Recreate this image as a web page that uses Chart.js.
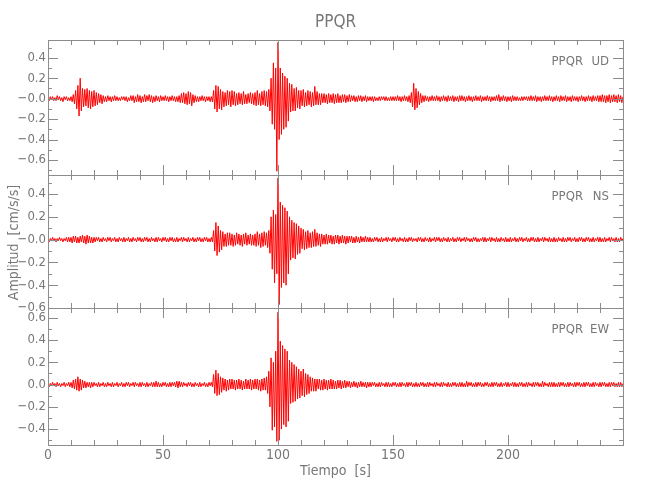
<!DOCTYPE html>
<html>
<head>
<meta charset="utf-8">
<script src="https://cdn.jsdelivr.net/npm/chart.js@4.4.1/dist/chart.umd.min.js"></script>
<style>
  html, body { margin: 0; padding: 0; background: #fff; }
</style>
</head>
<body>
<canvas id="sismo" width="650" height="500"></canvas>
<script>
const estacion = 'PPQR';
const componentes = ['UD', 'NS', 'EW'];
const dt = 0.5; // s entre muestras

// componente vertical, cada fila = 10 s
const ud = [
  .01,-.02,.02,-.01,.02,-.02,.01,-.02,.03,-.01,.02,-.02,.01,-.03,.02,-.01,.02,-.02,.01,-.02, // 0
  .02,-.03,.04,-.05,.08,-.1,.13,-.17,.2,-.12,.1,-.08,.09,-.07,.1,-.09,.08,-.1,.07,-.08,      // 10
  .08,-.07,.06,-.06,.05,-.04,.04,-.05,.03,-.03,.02,-.03,.03,-.02,.02,-.03,.02,-.02,.03,-.02, // 20
  .02,-.02,.01,-.02,.02,-.01,.02,-.02,.02,-.03,.01,-.02,.03,-.02,.03,-.04,.02,-.03,.04,-.03, // 30
  .03,-.04,.02,-.03,.04,-.03,.03,-.02,.04,-.03,.03,-.04,.02,-.03,.03,-.02,.02,-.03,.03,-.02, // 40
  .02,-.02,.03,-.02,.02,-.03,.02,-.02,.03,-.02,.02,-.03,.02,-.03,.03,-.04,.05,-.04,.06,-.05, // 50
  .05,-.06,.07,-.05,.06,-.07,.04,-.04,.03,-.03,.02,-.03,.02,-.02,.03,-.02,.02,-.03,.02,-.02, // 60
  .02,-.03,.02,-.03,.08,-.1,.13,-.13,.12,-.1,.09,-.11,.07,-.08,.06,-.07,.08,-.06,.07,-.08,   // 70
  .08,-.06,.07,-.07,.05,-.06,.06,-.05,.05,-.06,.07,-.05,.04,-.05,.05,-.04,.06,-.05,.05,-.06, // 80
  .06,-.07,.08,-.06,.05,-.07,.07,-.06,.08,-.07,.07,-.08,.09,-.12,.2,-.25,.35,-.3,.3,-.71,    // 90
  .55,-.4,.3,-.35,.25,-.3,.22,-.28,.2,-.22,.15,-.13,.14,-.12,.1,-.12,.11,-.09,.08,-.1,       // 100
  .08,-.07,.09,-.08,.06,-.07,.08,-.06,.07,-.08,.06,-.07,.12,-.06,.07,-.06,.05,-.06,.05,-.04, // 110
  .05,-.04,.04,-.05,.05,-.04,.04,-.04,.05,-.05,.04,-.04,.05,-.04,.03,-.04,.04,-.03,.04,-.04, // 120
  .03,-.03,.04,-.03,.03,-.02,.03,-.03,.02,-.03,.03,-.02,.03,-.03,.02,-.02,.03,-.03,.02,-.02, // 130
  .02,-.02,.02,-.03,.02,-.02,.01,-.02,.02,-.02,.02,-.01,.02,-.02,.02,-.02,.01,-.02,.02,-.02, // 140
  .02,-.02,.02,-.02,.03,-.02,.02,-.03,.02,-.02,.03,-.02,.02,-.03,.03,-.04,.06,-.08,.15,-.11, // 150
  .1,-.09,.07,-.06,.05,-.04,.03,-.03,.03,-.02,.02,-.03,.02,-.02,.03,-.02,.02,-.02,.03,-.02,  // 160
  .02,-.03,.02,-.02,.03,-.02,.02,-.03,.03,-.02,.02,-.02,.03,-.03,.02,-.02,.02,-.03,.03,-.02, // 170
  .03,-.02,.02,-.03,.02,-.02,.03,-.02,.02,-.03,.02,-.02,.03,-.02,.02,-.02,.03,-.03,.02,-.02, // 180
  .02,-.02,.03,-.02,.02,-.03,.02,-.02,.02,-.02,.03,-.02,.04,-.03,.02,-.02,.03,-.02,.02,-.03, // 190
  .02,-.02,.02,-.03,.03,-.02,.02,-.02,.02,-.02,.01,-.02,.02,-.02,.02,-.01,.02,-.02,.02,-.02, // 200
  .03,-.02,.02,-.02,.03,-.03,.02,-.02,.02,-.03,.02,-.02,.03,-.02,.02,-.02,.03,-.02,.02,-.03, // 210
  .02,-.02,.03,-.02,.02,-.03,.03,-.02,.02,-.02,.03,-.03,.02,-.02,.02,-.03,.03,-.02,.02,-.02, // 220
  .02,-.03,.02,-.02,.03,-.02,.02,-.03,.02,-.02,.03,-.02,.02,-.03,.03,-.02,.02,-.02,.03,-.03, // 230
  .03,-.03,.04,-.03,.03,-.04,.03,-.03,.04,-.04,.03,-.03,.04,-.03,.03,-.04,.04,-.03,.03,-.04, // 240
  .02
];

// componente norte-sur
const ns = [
  .01,-.02,.01,-.01,.02,-.01,.01,-.02,.01,-.01,.02,-.01,.01,-.02,.01,-.01,.02,-.02,.02,-.02, // 0
  .02,-.03,.03,-.02,.03,-.03,.02,-.03,.03,-.02,.04,-.03,.03,-.04,.04,-.03,.03,-.03,.02,-.03, // 10
  .02,-.02,.02,-.01,.02,-.02,.01,-.02,.02,-.01,.01,-.02,.02,-.01,.02,-.02,.01,-.01,.02,-.02, // 20
  .01,-.02,.02,-.01,.01,-.02,.02,-.02,.01,-.01,.02,-.02,.01,-.02,.02,-.01,.01,-.02,.02,-.01, // 30
  .02,-.02,.01,-.02,.02,-.01,.02,-.02,.01,-.02,.02,-.01,.01,-.02,.02,-.02,.02,-.01,.01,-.02, // 40
  .02,-.01,.02,-.02,.01,-.02,.02,-.01,.02,-.02,.01,-.02,.02,-.02,.01,-.01,.02,-.02,.02,-.01, // 50
  .01,-.02,.02,-.02,.01,-.01,.02,-.02,.01,-.02,.02,-.01,.02,-.02,.01,-.02,.02,-.01,.02,-.02, // 60
  .01,-.02,.02,-.02,.08,-.1,.15,-.14,.12,-.11,.08,-.09,.07,-.06,.05,-.06,.06,-.05,.06,-.05,  // 70
  .05,-.06,.04,-.05,.06,-.04,.05,-.05,.04,-.06,.05,-.04,.06,-.05,.04,-.04,.05,-.05,.04,-.05, // 80
  .05,-.06,.07,-.05,.05,-.07,.06,-.06,.07,-.05,.06,-.07,.08,-.12,.2,-.26,.26,-.38,.22,-.3,   // 90
  .54,-.57,.33,-.42,.3,-.38,.28,-.4,.25,-.3,.2,-.18,.17,-.16,.15,-.17,.14,-.13,.12,-.12,     // 100
  .1,-.08,.09,-.09,.07,-.08,.08,-.07,.06,-.07,.07,-.06,.09,-.06,.06,-.05,.05,-.06,.05,-.04,  // 110
  .04,-.04,.05,-.04,.04,-.03,.04,-.04,.03,-.04,.04,-.03,.04,-.04,.03,-.03,.04,-.03,.03,-.04, // 120
  .03,-.03,.03,-.02,.03,-.03,.02,-.03,.03,-.02,.02,-.03,.03,-.02,.02,-.02,.03,-.02,.02,-.02, // 130
  .02,-.02,.01,-.02,.02,-.01,.02,-.02,.01,-.02,.02,-.02,.01,-.01,.02,-.02,.02,-.01,.01,-.02, // 140
  .02,-.01,.02,-.02,.01,-.02,.02,-.01,.01,-.02,.02,-.02,.01,-.02,.02,-.01,.02,-.02,.01,-.01, // 150
  .01,-.02,.02,-.01,.02,-.02,.01,-.02,.02,-.01,.01,-.02,.02,-.02,.01,-.01,.02,-.02,.02,-.01, // 160
  .02,-.02,.01,-.02,.02,-.01,.01,-.02,.02,-.02,.01,-.01,.02,-.02,.01,-.02,.02,-.01,.02,-.02, // 170
  .01,-.01,.02,-.02,.02,-.01,.01,-.02,.01,-.02,.02,-.01,.02,-.02,.01,-.02,.01,-.01,.02,-.02, // 180
  .02,-.02,.01,-.01,.02,-.02,.02,-.01,.01,-.02,.02,-.02,.01,-.02,.02,-.01,.01,-.02,.02,-.02, // 190
  .01,-.02,.02,-.02,.01,-.01,.02,-.02,.01,-.02,.02,-.01,.02,-.02,.01,-.01,.02,-.02,.01,-.02, // 200
  .02,-.01,.02,-.02,.01,-.02,.02,-.02,.01,-.01,.02,-.02,.02,-.01,.01,-.02,.02,-.02,.01,-.02, // 210
  .02,-.02,.01,-.02,.02,-.01,.01,-.02,.02,-.02,.01,-.02,.02,-.01,.02,-.02,.01,-.01,.02,-.02, // 220
  .01,-.02,.02,-.01,.02,-.02,.01,-.02,.02,-.01,.02,-.02,.01,-.02,.02,-.02,.01,-.01,.02,-.02, // 230
  .02,-.02,.01,-.02,.02,-.02,.01,-.01,.02,-.02,.02,-.01,.01,-.02,.02,-.02,.01,-.02,.02,-.01, // 240
  .01
];

// componente este-oeste
const ew = [
  .01,-.02,.01,-.01,.02,-.01,.01,-.02,.02,-.01,.01,-.02,.01,-.01,.02,-.02,.01,-.01,.02,-.02, // 0
  .02,-.03,.04,-.04,.05,-.05,.07,-.06,.05,-.05,.04,-.03,.03,-.03,.02,-.02,.02,-.03,.02,-.02, // 10
  .02,-.01,.01,-.02,.02,-.02,.01,-.01,.02,-.02,.01,-.02,.02,-.01,.01,-.02,.02,-.02,.01,-.01, // 20
  .02,-.02,.01,-.01,.02,-.02,.01,-.02,.02,-.01,.02,-.02,.01,-.01,.02,-.02,.02,-.01,.01,-.02, // 30
  .02,-.02,.02,-.01,.01,-.02,.02,-.02,.01,-.01,.02,-.02,.02,-.02,.03,-.02,.02,-.02,.01,-.02, // 40
  .02,-.01,.02,-.02,.01,-.02,.02,-.02,.02,-.01,.02,-.02,.03,-.03,.03,-.02,.02,-.02,.02,-.01, // 50
  .01,-.02,.02,-.01,.02,-.02,.01,-.02,.02,-.01,.01,-.02,.02,-.02,.01,-.01,.02,-.02,.01,-.02, // 60
  .02,-.01,.02,-.02,.09,-.08,.13,-.1,.1,-.09,.07,-.07,.06,-.05,.05,-.06,.04,-.05,.05,-.04,   // 70
  .05,-.04,.04,-.05,.04,-.04,.05,-.04,.04,-.05,.03,-.04,.05,-.04,.04,-.04,.05,-.05,.04,-.04, // 80
  .05,-.04,.05,-.05,.04,-.06,.05,-.05,.06,-.05,.07,-.08,.12,-.2,.24,-.41,.2,-.38,.3,-.51,    // 90
  .65,-.5,.39,-.4,.35,-.36,.32,-.38,.3,-.33,.22,-.17,.2,-.16,.18,-.15,.16,-.13,.14,-.12,     // 100
  .12,-.1,.14,-.11,.1,-.09,.09,-.08,.07,-.06,.06,-.06,.05,-.06,.05,-.04,.05,-.05,.04,-.05,   // 110
  .05,-.04,.04,-.05,.04,-.04,.05,-.04,.04,-.04,.03,-.04,.04,-.03,.04,-.04,.03,-.03,.04,-.03, // 120
  .03,-.02,.03,-.03,.02,-.02,.03,-.02,.02,-.03,.02,-.02,.03,-.02,.02,-.02,.02,-.03,.02,-.02, // 130
  .02,-.02,.02,-.01,.02,-.02,.01,-.02,.02,-.02,.02,-.01,.01,-.02,.02,-.02,.02,-.02,.01,-.02, // 140
  .02,-.01,.02,-.02,.01,-.02,.02,-.02,.02,-.01,.01,-.02,.02,-.02,.02,-.01,.02,-.02,.01,-.02, // 150
  .02,-.02,.01,-.02,.02,-.01,.02,-.02,.01,-.02,.02,-.02,.02,-.01,.01,-.02,.02,-.02,.02,-.01, // 160
  .01,-.02,.02,-.02,.02,-.01,.01,-.02,.02,-.02,.01,-.02,.02,-.01,.02,-.02,.01,-.02,.02,-.02, // 170
  .02,-.02,.01,-.02,.03,-.02,.02,-.01,.02,-.02,.01,-.02,.02,-.02,.02,-.01,.02,-.02,.01,-.02, // 180
  .02,-.01,.02,-.02,.01,-.02,.02,-.02,.02,-.01,.02,-.02,.01,-.02,.02,-.02,.01,-.01,.02,-.02, // 190
  .02,-.02,.01,-.01,.02,-.02,.02,-.02,.01,-.02,.02,-.01,.02,-.02,.01,-.02,.02,-.02,.02,-.01, // 200
  .01,-.02,.02,-.02,.02,-.01,.02,-.02,.01,-.02,.03,-.02,.02,-.01,.01,-.02,.02,-.02,.02,-.02, // 210
  .02,-.02,.01,-.02,.02,-.02,.02,-.01,.02,-.02,.01,-.02,.02,-.02,.02,-.01,.01,-.02,.02,-.02, // 220
  .02,-.01,.02,-.02,.01,-.02,.02,-.02,.02,-.01,.02,-.02,.01,-.02,.02,-.02,.02,-.01,.01,-.02, // 230
  .02,-.02,.02,-.01,.02,-.02,.01,-.02,.02,-.02,.02,-.01,.02,-.02,.01,-.02,.02,-.02,.02,-.02, // 240
  .01
];

const tiempo = ud.map((_, i) => i * dt);

const xTicks = [0, 50, 100, 150, 200];
const udTicks = [0.4, 0.2, 0, -0.2, -0.4, -0.6];
const udLabels = ['0.4', '0.2', '\u22120.0', '\u22120.2', '\u22120.4', '\u22120.6'];
const nsTicks = [0.4, 0.2, 0, -0.2, -0.4, -0.6];
const nsLabels = ['0.4', '0.2', '\u22120.0', '\u22120.2', '\u22120.4', '\u22120.6'];
const ewTicks = [0.6, 0.4, 0.2, 0, -0.2, -0.4];
const ewLabels = ['0.6', '0.4', '0.2', '0.0', '\u22120.2', '\u22120.4'];

const familia = "'DejaVu Sans Condensed', 'Liberation Sans Narrow', sans-serif";
const gris = '#777';
const marcoColor = '#8c8c8c';

function panelAxis(ticks, labels, min, max, peso, orden) {
  return {
    type: 'linear',
    position: 'left',
    stack: 'trazas',
    stackWeight: peso,
    weight: orden,
    min: min,
    max: max,
    grid: { display: false, drawTicks: false },
    border: { display: false },
    afterBuildTicks: s => { s.ticks = ticks.map(v => ({ value: v })); },
    afterFit: s => { s.width = 48; },
    ticks: {
      autoSkip: false,
      padding: 2,
      color: gris,
      font: { family: familia, size: 13 },
      callback: v => labels[ticks.indexOf(v)]
    }
  };
}

function serie(valores, eje) {
  return {
    data: valores.map((v, i) => ({ x: tiempo[i], y: v })),
    yAxisID: eje,
    borderColor: '#ff0000',
    borderWidth: 1,
    pointRadius: 0,
    tension: 0,
    fill: false
  };
}

// marco, marcas hacia dentro y textos de cada traza
const marco = {
  id: 'marco',
  afterDraw(chart) {
    const { ctx, chartArea: a, scales } = chart;
    const xs = scales.x;
    ctx.save();
    ctx.strokeStyle = marcoColor;
    ctx.lineWidth = 1;
    ['y1', 'y2', 'y3'].forEach((id, n) => {
      const ys = scales[id];
      ctx.strokeRect(a.left + 0.5, Math.round(ys.top) + 0.5, a.right - a.left, Math.round(ys.bottom - ys.top));
      ctx.beginPath();
      for (let t = 10; t < 250; t += 10) {
        const px = Math.round(xs.getPixelForValue(t)) + 0.5;
        const len = t % 50 === 0 ? 10 : 5;
        ctx.moveTo(px, ys.top); ctx.lineTo(px, ys.top + len);
        ctx.moveTo(px, ys.bottom); ctx.lineTo(px, ys.bottom - len);
      }
      for (let k = Math.ceil(ys.min * 10); k <= Math.floor(ys.max * 10); k++) {
        const py = Math.round(ys.getPixelForValue(k / 10)) + 0.5;
        const len = k % 2 === 0 ? 10 : 4;
        ctx.moveTo(a.left, py); ctx.lineTo(a.left + len, py);
        ctx.moveTo(a.right, py); ctx.lineTo(a.right - len, py);
      }
      ctx.stroke();

      ctx.fillStyle = gris;
      ctx.font = '13px ' + familia;
      ctx.textAlign = 'right';
      ctx.textBaseline = 'middle';
      ctx.fillText(componentes[n], a.right - 14, ys.top + 22);
      ctx.fillText(estacion, a.right - 40, ys.top + 22);
    });

    ctx.fillStyle = gris;
    ctx.textAlign = 'center';
    ctx.textBaseline = 'middle';
    ctx.font = '17px ' + familia;
    ctx.fillText(estacion, (a.left + a.right) / 2, 23);
    ctx.font = '14px ' + familia;
    ctx.fillText('Tiempo  [s]', (a.left + a.right) / 2, 471);
    ctx.translate(14, (a.top + a.bottom) / 2);
    ctx.rotate(-Math.PI / 2);
    ctx.fillText('Amplitud  [cm/s/s]', 0, 0);
    ctx.restore();
  }
};

new Chart(document.getElementById('sismo'), {
  type: 'line',
  data: {
    datasets: [serie(ud, 'y1'), serie(ns, 'y2'), serie(ew, 'y3')]
  },
  options: {
    responsive: false,
    animation: false,
    devicePixelRatio: 1,
    layout: { padding: { top: 40, right: 27, left: 0, bottom: 0 } },
    plugins: { legend: { display: false }, tooltip: { enabled: false } },
    scales: {
      x: {
        type: 'linear',
        position: 'bottom',
        min: 0,
        max: 250,
        grid: { display: false, drawTicks: false },
        border: { display: false },
        afterBuildTicks: s => { s.ticks = xTicks.map(v => ({ value: v })); },
        afterFit: s => { s.height = 55; },
        ticks: { padding: 2, color: gris, font: { family: familia, size: 14 } }
      },
      y1: panelAxis(udTicks, udLabels, -0.747, 0.574, 135, 3),
      y2: panelAxis(nsTicks, nsLabels, -0.6, 0.567, 133, 2),
      y3: panelAxis(ewTicks, ewLabels, -0.543, 0.688, 137, 1)
    }
  },
  plugins: [marco]
});
</script>
</body>
</html>
